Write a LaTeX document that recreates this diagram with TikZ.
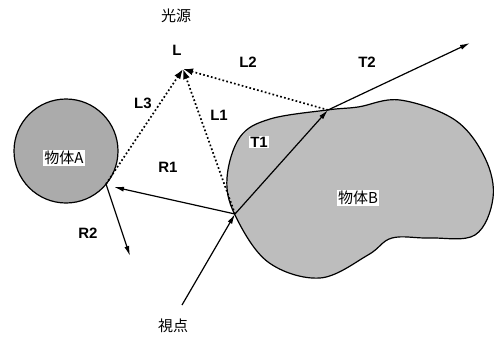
\documentclass[tikz,border=0pt]{standalone}
\usepackage{fontspec}
\setsansfont{Liberation Sans}
\newfontfamily\cjk{Noto Sans CJK JP}
\usetikzlibrary{arrows.meta}
\tikzset{
  lbl/.style={font=\sffamily\bfseries\fontsize{15}{16}\selectfont, inner sep=1pt},
  jlbl/.style={font=\cjk\fontsize{15}{16}\selectfont, inner sep=1pt},
  boxlbl/.style={fill=white, inner sep=1pt},
  ray/.style={line width=1.2pt, -{Latex[length=10pt,width=5pt]}},
  shadow/.style={line width=1.7pt, dash pattern=on 1.7pt off 2.3pt, -{Latex[length=10pt,width=7pt]}},
  objA/.style={draw=black, line width=1.2pt, fill=black!33},
  objB/.style={draw=black, line width=1.2pt, fill=black!26},
}
\begin{document}
\begin{tikzpicture}[x=1pt,y=-1pt]
\useasboundingbox (0,0) rectangle (498,341);
% objects
\draw[objA] (66,151) circle (52);
\draw[objB] plot[smooth cycle, tension=0.6] coordinates {
  (235,215) (227,178) (240,137) (270,119) (327,110) (358,107) (400,100)
  (455,120) (485,158) (493,198) (475,235) (430,238) (392,238)
  (368,255) (320,278) (268,262)};
% points
\coordinate (L) at (183,69);
\coordinate (HA) at (106,184);
\coordinate (HB) at (235,214);
\coordinate (HT) at (328,110);
\coordinate (E) at (182,305);
\coordinate (T2e) at (470,43);
\coordinate (R1e) at (114,187);
\coordinate (R2e) at (130,256);
% shadow rays
\draw[shadow] (HA) -- (L);
\draw[shadow] (HB) -- (L);
\draw[shadow] (HT) -- (L);
% rays
\draw[ray] (E) -- (HB);
\draw[ray] (HB) -- (HT);
\draw[ray] (HT) -- (T2e);
\draw[ray] (HB) -- (R1e);
\draw[ray] (HA) -- (R2e);
% labels
\node[jlbl] (src) at (176,16) {光源};
\node[lbl] (lL) at (177,50) {L};
\node[lbl] (lL2) at (248,62) {L2};
\node[lbl] (lT2) at (367,62) {T2};
\node[lbl] (lL3) at (143,103) {L3};
\node[lbl] (lL1) at (219,115) {L1};
\node[lbl,boxlbl] (lT1) at (259,142) {T1};
\node[lbl] (lR1) at (168,167) {R1};
\node[lbl] (lR2) at (88,233) {R2};
\node[jlbl] (eye) at (173,326) {視点};
\node[jlbl,boxlbl] (nA) at (64,158) {物体A};
\node[jlbl,boxlbl] (nB) at (358,198) {物体B};
\end{tikzpicture}
\end{document}
